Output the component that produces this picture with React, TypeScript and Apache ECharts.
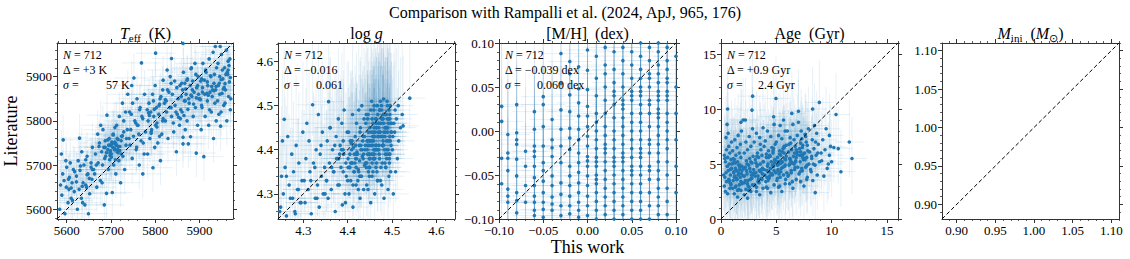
import React, { useEffect, useRef } from "react";
import * as echarts from "echarts";

// ---------------- data ----------------
const teffThis = [
  5596,5584,5603,5610,5589,5617,5599,5586,5612,5594,5606,5591,5615,5600,5608,5598,5588,5592,5613,5605,
  5649,5624,5641,5633,5652,5628,5645,5637,5657,5622,5648,5630,5655,5639,5626,5646,5634,5658,5629,5643,5651,5636,
  5685,5690,5668,5676,5663,5694,5681,5671,5697,5688,5665,5679,5693,5684,5699,5674,5687,5696,5670,5682,5677,5691,5661,5686,5698,5673,5667,5680,
  5703,5722,5711,5731,5706,5718,5727,5701,5714,5708,5704,5720,5712,5702,5709,5716,5724,5705,5737,5713,5729,5719,5733,5726,5738,5707,5715,5723,5710,5735,
  5772,5764,5748,5775,5757,5743,5768,5751,5778,5745,5761,5754,5770,5742,5766,5749,5759,5776,5747,5752,5769,5763,5741,5773,5756,5746,5765,5758,
  5795,5812,5783,5799,5806,5788,5815,5792,5801,5784,5818,5797,5808,5790,5803,5786,5811,5794,5817,5800,5818,5801,5782,5809,5796,5813,5787,5804,5791,5810,
  5848,5863,5829,5842,5855,5823,5837,5850,5826,5858,5833,5845,5821,5852,5839,5828,5856,5844,5834,5837,5847,5825,5859,5831,5853,5841,5827,5849,5836,5857,
  5893,5875,5863,5880,5868,5896,5872,5886,5861,5891,5877,5866,5899,5883,5870,5888,5862,5894,5879,5867,5885,5873,5897,5864,5882,5890,5863,5876,5898,5869,5887,5874,5892,5881,5865,
  5910,5932,5904,5921,5938,5913,5927,5906,5935,5918,5901,5929,5912,5924,5937,5907,5919,5933,5903,5926,5915,5939,5908,5922,5931,5936,5902,5917,5928,5911,5934,5905,5923,5914,5930,
  5948,5962,5944,5970,5955,5941,5966,5951,5959,5943,5968,5953,5946,5963,5957,5942,5969,5950,5961,5947,5971,5956,5945,5964,5952,5967,5958,5949,5965,5954,
  5695,5702,5708,5714,5699,5705,5717,5723,5690,5711,5698,5726,5693,5720,5729,5687,5734,5709,5701,5716,
  5860,5872,5884,5896,5905,5918,5925,5938,5949,5960,5868,5881,5893,5907,5920,5933,5946,5958,5970,5965,
  5610,5622,5635,5646,5658,5604,5618,5631,5643,5655,5760,5772,5785,5798,5810,5823,5836,5791,5804,5817,
];
const teffLit = [
  5590,5600,5615,5625,5632,5640,5650,5655,5660,5665,5672,5680,5690,5695,5705,5710,5725,5757,5620,5645,
  5590,5600,5610,5625,5635,5645,5650,5660,5668,5675,5680,5688,5695,5700,5710,5720,5730,5740,5761,5655,5670,5615,
  5610,5636,5650,5665,5680,5690,5700,5705,5712,5720,5725,5730,5735,5740,5745,5750,5755,5760,5770,5780,5790,5813,5690,5715,5728,5742,5700,5660,
  5638,5660,5680,5690,5700,5710,5720,5725,5730,5735,5740,5742,5745,5748,5752,5758,5765,5770,5780,5790,5800,5810,5820,5840,5860,5750,5735,5725,5712,5760,
  5680,5700,5715,5725,5735,5745,5755,5765,5775,5780,5790,5800,5810,5820,5830,5840,5850,5860,5880,5897,5931,5770,5760,5750,5795,5815,5825,5740,
  5694,5710,5725,5740,5750,5760,5770,5780,5790,5800,5805,5810,5815,5820,5830,5840,5850,5860,5870,5880,5892,5953,5825,5835,5845,5855,5812,5795,5775,5765,
  5730,5748,5760,5775,5790,5800,5810,5815,5820,5825,5830,5835,5840,5850,5860,5870,5880,5890,5900,5941,5820,5845,5855,5865,5808,5795,5915,5875,5885,5805,
  5727,5748,5763,5764,5780,5790,5800,5810,5820,5830,5840,5845,5850,5855,5860,5865,5870,5875,5880,5885,5890,5895,5900,5910,5920,5930,5975,5850,5860,5872,5838,5826,5905,5918,5812,
  5719,5760,5780,5790,5800,5810,5820,5830,5840,5845,5850,5855,5860,5865,5870,5875,5880,5885,5890,5900,5910,5920,5930,5940,5955,5968,5848,5862,5878,5892,5905,5835,5825,5915,5870,
  5788,5800,5815,5825,5835,5845,5855,5862,5870,5880,5888,5895,5900,5910,5920,5930,5940,5950,5960,5968,5850,5875,5885,5905,5915,5925,5840,5820,5935,5872,
  5745,5752,5738,5760,5732,5768,5742,5755,5728,5748,5722,5766,5757,5733,5775,5740,5745,5785,5718,5728,
  5885,5892,5870,5880,5895,5888,5902,5878,5893,5905,5845,5858,5852,5865,5858,5868,5860,5884,5898,5915,
  5648,5662,5652,5678,5690,5668,5685,5698,5712,5705,5790,5805,5818,5826,5838,5848,5830,5772,5786,5800,
];

const loggThis = [
  4.262,4.281,4.249,4.293,4.271,4.255,4.287,4.268,4.297,4.251,4.278,4.259,4.290,4.274,4.284,4.265,4.299,4.257,4.247,4.276,4.289,4.262,4.295,4.253,4.282,
  4.318,4.336,4.304,4.327,4.345,4.311,4.332,4.302,4.341,4.315,4.348,4.323,4.306,4.338,4.329,4.313,4.343,4.308,4.334,4.321,4.349,4.317,4.326,4.340,4.331,
  4.372,4.388,4.356,4.394,4.363,4.381,4.352,4.397,4.369,4.385,4.359,4.377,4.391,4.366,4.383,4.354,4.374,4.399,4.361,4.387,4.379,4.392,4.357,4.368,4.396,4.375,4.386,4.353,4.390,4.364,4.382,4.371,4.395,4.360,4.378,
  4.412,4.428,4.403,4.436,4.419,4.407,4.431,4.415,4.424,4.401,4.438,4.410,4.427,4.418,4.433,4.405,4.421,4.439,4.413,4.426,4.408,4.434,4.417,4.402,4.429,4.420,4.437,4.411,4.425,4.432,4.404,4.416,4.435,4.422,4.409,4.430,4.414,4.427,4.406,4.423,4.438,4.401,4.419,4.433,4.412,4.428,4.407,4.436,4.418,4.424,
  4.452,4.461,4.443,4.468,4.455,4.447,4.464,4.441,4.458,4.449,4.466,4.453,4.444,4.460,4.469,4.450,4.457,4.463,4.446,4.459,4.467,4.454,4.442,4.465,4.451,4.448,4.462,4.456,4.445,4.468,4.453,4.460,4.441,4.466,4.449,4.457,4.444,4.463,4.451,4.459,4.447,4.465,4.455,4.442,4.461,4.450,4.467,4.446,4.458,4.464,4.452,4.443,4.469,4.456,4.448,4.462,4.454,4.445,4.460,4.457,
  4.482,4.491,4.474,4.497,4.486,4.478,4.494,4.471,4.488,4.480,4.496,4.484,4.473,4.490,4.499,4.477,4.487,4.493,4.476,4.489,4.481,4.472,4.495,4.483,4.479,4.492,4.475,4.498,4.485,4.470,4.490,4.482,4.476,4.494,4.488,4.473,4.497,4.480,4.486,4.491,4.474,4.484,4.478,4.496,4.471,4.489,4.493,4.477,4.485,4.481,4.495,4.472,4.487,4.479,4.492,
  4.503,4.508,4.512,4.501,4.515,4.506,4.519,4.504,4.510,4.523,4.507,4.514,4.525,4.540,4.502,
  4.47,4.48,4.46,4.49,4.475,4.485,4.465,4.455,4.495,4.445,4.47,4.48,4.46,4.49,4.475,4.485,4.465,4.455,4.495,4.445,
  4.472,4.482,4.462,4.492,4.478,4.488,4.468,4.458,4.498,4.448,4.42,4.43,4.41,4.44,4.425,4.435,4.415,4.405,4.39,4.38,
  4.474,4.484,4.464,4.494,4.479,4.489,4.469,4.459,4.499,4.449,4.43,4.42,4.44,4.41,4.40,4.39,4.45,4.46,4.47,4.48,
];
const loggLit = [
  4.25,4.26,4.27,4.28,4.29,4.30,4.31,4.32,4.33,4.34,4.35,4.36,4.37,4.39,4.41,4.43,4.44,4.469,4.26,4.29,4.31,4.34,4.28,4.42,4.255,
  4.255,4.27,4.28,4.29,4.30,4.31,4.32,4.33,4.34,4.35,4.36,4.37,4.38,4.39,4.40,4.42,4.44,4.46,4.48,4.502,4.30,4.33,4.36,4.41,4.29,
  4.26,4.275,4.29,4.30,4.31,4.32,4.33,4.34,4.35,4.36,4.37,4.38,4.39,4.40,4.41,4.42,4.43,4.44,4.45,4.46,4.47,4.49,4.509,4.35,4.37,4.38,4.40,4.33,4.42,4.36,4.39,4.41,4.28,4.45,4.32,
  4.27,4.29,4.30,4.31,4.32,4.33,4.34,4.35,4.355,4.36,4.365,4.37,4.375,4.38,4.385,4.39,4.395,4.40,4.405,4.41,4.415,4.42,4.43,4.44,4.45,4.46,4.47,4.48,4.49,4.50,4.36,4.37,4.38,4.39,4.40,4.41,4.35,4.34,4.42,4.33,4.43,4.38,4.36,4.40,4.32,4.44,4.37,4.39,4.41,4.31,
  4.28,4.30,4.32,4.33,4.34,4.35,4.36,4.37,4.38,4.39,4.40,4.41,4.42,4.43,4.44,4.45,4.46,4.47,4.48,4.49,4.50,4.51,4.36,4.37,4.38,4.39,4.40,4.41,4.42,4.43,4.44,4.45,4.46,4.35,4.34,4.39,4.40,4.41,4.42,4.43,4.44,4.45,4.47,4.48,4.38,4.36,4.33,4.31,4.42,4.46,4.49,4.37,4.40,4.43,4.41,4.44,4.39,4.47,4.50,4.35,
  4.29,4.31,4.33,4.35,4.36,4.37,4.38,4.39,4.40,4.41,4.42,4.43,4.44,4.45,4.46,4.47,4.48,4.49,4.50,4.51,4.515,4.38,4.39,4.40,4.41,4.42,4.43,4.44,4.45,4.46,4.47,4.48,4.49,4.37,4.42,4.44,4.46,4.48,4.36,4.40,4.43,4.45,4.47,4.50,4.41,4.39,4.34,4.32,4.44,4.46,4.48,4.49,4.45,4.43,4.47,
  4.30,4.35,4.38,4.40,4.42,4.44,4.45,4.46,4.47,4.48,4.49,4.50,4.454,4.517,4.43,
  4.40,4.42,4.38,4.44,4.46,4.48,4.41,4.37,4.43,4.39,4.45,4.47,4.43,4.50,4.36,4.39,4.45,4.42,4.47,4.41,
  4.49,4.44,4.40,4.46,4.43,4.38,4.48,4.44,4.41,4.36,4.38,4.40,4.42,4.37,4.35,4.43,4.39,4.36,4.40,4.38,
  4.51,4.37,4.47,4.39,4.41,4.45,4.43,4.40,4.44,4.38,4.34,4.39,4.41,4.37,4.33,4.35,4.42,4.39,4.46,4.41,
];

const mhCols = [-0.097,-0.09,-0.08,-0.07,-0.06,-0.05,-0.04,-0.03,-0.02,-0.01,0,0.01,0.02,0.03,0.04,0.05,0.06,0.07,0.08,0.09,0.1];
const mhLit = [
  [0.028,0.011,-0.031,-0.06],
  [-0.004,-0.025,-0.045,-0.066,-0.074,-0.081,-0.031],
  [0.030,-0.002,-0.010,-0.015,-0.032,-0.051,-0.070,-0.079,-0.093],
  [-0.023,-0.040,-0.062,-0.081],
  [0.022,-0.017,-0.023,-0.029,-0.040,-0.053,-0.062,-0.074,-0.081,-0.090,-0.096,0.002],
  [0.039,0.030,0.005,-0.017,-0.036,-0.045,-0.057,-0.070,-0.081,-0.089,-0.098],
  [0.013,-0.010,-0.019,-0.029,-0.051,-0.062,-0.075,-0.083,-0.090],
  [0.088,0.054,0.024,0.002,-0.017,-0.036,-0.059,-0.072,-0.085,-0.096],
  [0.079,0.065,0.041,0.022,0.003,-0.008,-0.021,-0.040,-0.051,-0.062,-0.074,-0.085,-0.094],
  [0.073,0.048,0.032,0.017,0.002,-0.010,-0.025,-0.036,-0.047,-0.059,-0.070,-0.081,-0.090,-0.098],
  [0.092,0.069,0.047,0.028,0.017,0.005,-0.006,-0.017,-0.029,-0.040,-0.051,-0.062,-0.074,-0.085,-0.096,-0.034],
  [0.085,0.06,0.04,0.02,0.01,0.0,-0.01,-0.02,-0.03,-0.04,-0.05,-0.06,-0.07,-0.08,-0.09,-0.1,-0.035,-0.055],
  [0.095,0.075,0.05,0.035,0.02,0.005,-0.005,-0.015,-0.025,-0.035,-0.045,-0.055,-0.065,-0.075,-0.085,-0.095,0.065,-0.02],
  [0.09,0.07,0.055,0.04,0.03,0.015,0.0,-0.01,-0.02,-0.03,-0.04,-0.05,-0.06,-0.07,-0.08,-0.09,-0.1,0.045,-0.035],
  [0.095,0.08,0.065,0.05,0.035,0.025,0.015,0.005,-0.005,-0.015,-0.025,-0.035,-0.045,-0.055,-0.065,-0.075,-0.085,-0.095,0.03,-0.03],
  [0.09,0.075,0.06,0.045,0.035,0.02,0.01,0.0,-0.01,-0.02,-0.03,-0.04,-0.05,-0.06,-0.07,-0.08,-0.09,-0.1,0.04,-0.045],
  [0.1,0.085,0.07,0.06,0.05,0.04,0.03,0.02,0.01,0.0,-0.01,-0.02,-0.03,-0.04,-0.05,-0.06,-0.07,-0.08,-0.09,-0.1,0.045,-0.025],
  [0.095,0.08,0.065,0.05,0.035,0.02,0.005,-0.01,-0.025,-0.04,-0.055,-0.07,-0.085,-0.1,0.03,-0.015,0.06,-0.045],
  [0.1,0.09,0.075,0.065,0.055,0.045,0.035,0.025,0.015,0.005,-0.005,-0.015,-0.025,-0.035,-0.045,-0.055,-0.065,-0.075,-0.085,-0.095,0.04,0.02],
  [0.095,0.08,0.07,0.055,0.045,0.035,0.02,0.01,0.0,-0.01,-0.02,-0.035,-0.05,-0.065,-0.08,-0.095,0.04,0.06],
  [0.085,0.05,0.02,-0.01,-0.04,-0.07],
];

const ageThis = [
  0.6,0.4,0.8,0.3,0.9,0.5,0.7,0.35,0.85,0.45,0.65,0.95,0.55,0.75,0.4,0.9,0.6,0.3,0.8,0.5,0.7,0.95,0.45,0.65,0.55,0.6,0.85,0.75,0.35,0.24,
  1.5,1.2,1.8,1.05,1.35,1.65,1.95,1.1,1.45,1.75,1.25,1.55,1.85,1.15,1.4,1.7,1.3,1.9,1.6,1.0,1.5,1.2,1.8,1.35,1.65,1.05,1.45,1.75,1.25,1.55,1.85,1.8,2.0,1.15,1.4,1.7,1.3,1.9,1.6,1.1,
  2.4,2.1,2.7,2.25,2.55,2.85,2.15,2.45,2.75,2.05,2.35,2.65,2.95,2.2,2.5,2.8,2.3,2.6,2.9,2.1,2.4,2.7,2.25,2.55,2.85,2.2,2.8,2.86,2.45,2.75,2.05,2.35,2.65,2.95,2.5,
  3.5,3.2,3.8,3.05,3.35,3.65,3.95,3.15,3.45,3.75,3.25,3.55,3.85,3.1,3.4,3.7,3.3,3.6,3.9,3.0,3.5,3.2,3.8,3.35,3.65,3.15,3.45,3.75,3.25,3.55,
  4.5,4.2,4.8,4.05,4.35,4.65,4.95,4.15,4.45,4.75,4.25,4.55,4.85,4.1,4.4,4.7,4.3,4.6,4.9,4.0,4.5,4.2,4.8,4.76,4.35,4.65,4.95,4.15,4.45,4.75,4.25,4.55,4.85,4.97,4.1,
  5.5,5.2,5.8,5.05,5.35,5.65,5.95,5.15,5.45,5.75,5.25,5.55,5.85,5.1,5.4,5.7,5.3,5.6,5.9,5.0,5.5,5.2,5.8,5.35,5.65,5.15,5.45,5.75,5.25,5.55,5.85,5.1,5.4,5.7,5.3,
  6.5,6.2,6.8,6.05,6.35,6.65,6.95,6.15,6.45,6.75,6.25,6.55,6.85,6.1,6.4,6.7,6.3,6.6,6.9,6.0,6.5,6.4,6.2,6.8,6.35,6.65,6.15,6.45,6.75,6.25,
  7.5,7.2,7.8,7.05,7.35,7.65,7.95,7.15,7.45,7.75,7.25,7.55,7.85,7.1,7.4,7.7,7.3,7.6,7.9,7.0,7.0,7.5,7.2,7.8,7.35,7.65,7.15,7.45,7.75,7.25,
  8.52,8.3,8.7,8.1,8.5,8.9,8.2,8.6,8.0,8.4,8.8,8.25,8.65,8.45,8.28,8.89,8.35,8.75,8.15,8.55,
  9.3,9.6,9.1,9.8,9.4,9.9,9.2,9.5,9.7,9.05,
  10.4,10.84,11.6,11.84,10.2,10.6,10.0,9.8,
  1.2,1.6,2.2,2.6,3.1,3.6,4.2,4.6,5.2,5.6,6.2,6.6,7.1,7.6,0.8,1.4,1.9,2.4,2.9,3.4,
  3.9,4.4,4.9,5.4,5.9,6.4,6.9,7.4,0.6,1.1,1.7,2.3,2.8,3.3,3.8,4.3,4.8,5.3,5.8,6.3,
  6.8,7.3,7.8,1.3,1.8,2.1,2.7,3.2,3.7,4.1,4.7,5.1,5.7,6.1,6.7,7.2,7.7,8.2,0.9,1.5,
];
const ageLit = [
  2.3,2.5,2.8,3.0,3.2,3.4,3.6,3.8,4.0,4.2,4.4,4.6,4.8,5.0,5.2,5.4,5.6,5.8,6.0,6.3,6.6,7.0,7.4,7.8,8.6,10.0,4.5,3.5,5.5,4.0,
  2.0,2.3,2.6,2.8,3.0,3.1,3.3,3.5,3.6,3.8,3.9,4.0,4.1,4.2,4.4,4.5,4.6,4.8,4.9,5.0,5.2,5.4,5.6,5.8,6.0,6.2,6.5,6.8,7.2,7.6,8.0,8.8,9.0,4.3,3.7,4.7,5.1,3.2,2.7,5.5,
  1.9,2.2,2.5,2.7,2.9,3.1,3.3,3.5,3.7,3.9,4.1,4.3,4.5,4.7,4.9,5.1,5.3,5.5,5.7,6.0,6.3,6.6,7.0,7.5,8.2,9.0,9.9,11.17,3.0,4.0,4.6,5.0,3.6,4.2,2.6,
  2.2,2.5,2.8,3.1,3.4,3.7,4.0,4.2,4.4,4.6,4.8,5.0,5.2,5.4,5.6,5.8,6.0,6.3,6.6,7.0,7.4,7.8,8.3,3.9,4.5,5.1,3.3,4.1,5.7,6.8,
  2.4,2.8,3.1,3.4,3.7,4.0,4.2,4.4,4.6,4.8,5.0,5.2,5.4,5.6,5.8,6.0,6.2,6.5,6.8,7.1,7.5,8.0,8.6,9.3,4.3,4.9,5.3,3.8,5.7,6.4,3.5,4.1,5.1,10.96,2.9,
  2.5,2.9,3.2,3.5,3.8,4.0,4.2,4.4,4.6,4.8,5.0,5.2,5.4,5.6,5.8,6.0,6.2,6.4,6.7,7.0,7.3,7.6,8.0,8.5,9.0,4.5,5.1,5.5,4.1,6.1,3.6,4.9,5.3,6.6,3.0,
  2.8,3.2,3.6,3.9,4.2,4.5,4.7,4.9,5.1,5.3,5.5,5.7,5.9,6.1,6.3,6.6,6.9,7.2,7.6,8.0,8.6,9.6,5.0,5.6,4.4,6.0,6.8,3.4,5.2,7.4,
  3.0,3.4,3.8,4.1,4.4,4.7,5.0,5.2,5.4,5.6,5.8,6.0,6.2,6.4,6.7,7.0,7.3,7.7,8.2,8.8,9.8,5.5,6.1,4.9,6.5,7.5,4.3,5.9,3.6,8.0,
  2.4,3.5,4.0,4.5,4.9,5.2,5.5,5.8,6.1,6.4,6.8,7.2,7.8,8.5,10.0,10.6,5.0,6.0,4.3,7.0,
  3.9,4.6,5.3,5.8,6.3,6.6,7.2,8.2,5.0,6.0,
  9.5,4.3,7.0,5.5,6.5,6.4,5.2,7.6,
  3.8,4.2,3.5,4.6,3.9,4.3,4.8,4.1,5.2,4.7,5.5,5.0,5.8,5.4,3.3,3.6,4.4,3.2,4.0,3.6,
  4.5,3.9,5.3,4.3,5.7,5.1,6.1,5.6,4.8,5.1,4.9,4.4,3.7,4.9,5.2,5.6,4.4,5.9,4.9,5.3,
  6.3,4.6,6.7,2.9,3.4,3.9,5.2,2.9,3.6,5.9,6.2,3.7,6.5,4.0,4.7,6.9,4.8,5.7,3.1,2.6,
];

// typical error bars [x-, x+, y-, y+]
const teffErr = [45, 45, 55, 55];
const loggErr = [0.035, 0.035, 0.07, 0.16];
const mhErr = [0.025, 0.025, 0.09, 0.09];
const ageErr = [1.3, 1.3, 3.2, 3.8];

// axis ranges and major tick labels
const teffRange = [5578, 5976];
const loggRange = [4.243, 4.642];
const mhRange = [-0.1, 0.1];
const ageRange = [0, 16];
const miniRange = [0.881, 1.110];
const teffTicks = [5600, 5700, 5800, 5900];
const loggTicks = [4.3, 4.4, 4.5, 4.6];
const mhTicks = [-0.1, -0.05, 0, 0.05, 0.1];
const ageTicks = [0, 5, 10, 15];
const miniTicks = [0.9, 0.95, 1.0, 1.05, 1.1];
const tickDecimals = [0, 1, 2, 0, 2];

const panelTitles = [
  "{i|T}{s|eff}  (K)",
  "log {i|g}",
  "[M/H]  (dex)",
  "Age  (Gyr)",
  "{i|M}{s|ini}  ({i|M}{s|\u2299})",
];
const statN = ["712", "712", "712", "712"];
const statDelta = ["+3 K", "\u22120.016", "\u22120.039 dex", "+0.9 Gyr"];
const statSigma = ["57 K", "0.061", "0.060 dex", "2.4 Gyr"];
const mainTitle = "Comparison with Rampalli et al. (2024, ApJ, 965, 176)";
const yLabel = "Literature";
const xLabel = "This work";

// ---------------- layout / style ----------------
const FONT = "'Liberation Serif', 'Times New Roman', serif";
const BLUE = "#1f77b4";
const AX = "#333";
const PANEL_LEFT = [57, 278, 499, 721, 942];
const PANEL_TOP = 43;
const PANEL_W = 177;
const PANEL_H = 176;
const SIGMA_VALUE_OFFSET = [49, 38, 38, 37];

function minorsOf(majors: number[], range: number[]) {
  const ms = (majors[1] - majors[0]) / 5;
  const out: number[] = [];
  const k0 = Math.ceil(range[0] / ms - 1e-6);
  const k1 = Math.floor(range[1] / ms + 1e-6);
  for (let k = k0; k <= k1; k++) out.push(+(k * ms).toFixed(6));
  return out;
}

function pairs(xs: number[], ys: number[]) {
  const n = Math.min(xs.length, ys.length);
  const out: number[][] = [];
  for (let i = 0; i < n; i++) out.push([xs[i], ys[i]]);
  return out;
}

function buildOption() {
  const mhPts: number[][] = [];
  mhCols.forEach((x, i) => (mhLit[i] || []).forEach((y) => mhPts.push([x, y])));

  const panels = [
    { pts: pairs(teffThis, teffLit), range: teffRange, ticks: teffTicks, err: teffErr },
    { pts: pairs(loggThis, loggLit), range: loggRange, ticks: loggTicks, err: loggErr },
    { pts: mhPts, range: mhRange, ticks: mhTicks, err: mhErr },
    { pts: pairs(ageThis, ageLit), range: ageRange, ticks: ageTicks, err: ageErr },
    { pts: [] as number[][], range: miniRange, ticks: miniTicks, err: null as any },
  ];

  const grids: any[] = [];
  const xAxes: any[] = [];
  const yAxes: any[] = [];
  const series: any[] = [];
  const graphics: any[] = [];

  panels.forEach((p, i) => {
    grids.push({
      left: PANEL_LEFT[i],
      top: PANEL_TOP,
      width: i === 0 ? PANEL_W - 1 : PANEL_W,
      height: PANEL_H,
      containLabel: false,
      outerBoundsMode: "none",
    });
    const minors = minorsOf(p.ticks, p.range);
    const dec = tickDecimals[i];
    const fmt = (v: number) => v.toFixed(dec).replace("-", "\u2212");
    const mk = (kind: "x" | "y") => {
      const base = {
        type: "value",
        gridIndex: i,
        min: p.range[0],
        max: p.range[1],
        splitLine: { show: false },
        splitArea: { show: false },
      };
      const pA = kind === "x" ? "bottom" : "left";
      const pB = kind === "x" ? "top" : "right";
      const line = { show: true, onZero: false, lineStyle: { color: AX, width: 1 } };
      const noLine = { show: false, onZero: false };
      return [
        {
          ...base,
          position: pA,
          axisLine: line,
          axisTick: { show: true, inside: false, length: 4, customValues: p.ticks, lineStyle: { color: AX, width: 1 } },
          axisLabel: {
            show: true,
            customValues: p.ticks,
            formatter: fmt,
            fontFamily: FONT,
            fontSize: 13,
            color: "#000",
            margin: 5,
          },
        },
        {
          ...base,
          position: pA,
          axisLine: noLine,
          axisTick: { show: true, inside: false, length: 2, customValues: minors, lineStyle: { color: AX, width: 0.8 } },
          axisLabel: { show: false },
        },
        {
          ...base,
          position: pB,
          axisLine: line,
          axisTick: { show: true, inside: false, length: 4, customValues: p.ticks, lineStyle: { color: AX, width: 1 } },
          axisLabel: { show: false },
        },
        {
          ...base,
          position: pB,
          axisLine: noLine,
          axisTick: { show: true, inside: false, length: 2, customValues: minors, lineStyle: { color: AX, width: 0.8 } },
          axisLabel: { show: false },
        },
      ];
    };
    xAxes.push(...mk("x"));
    yAxes.push(...mk("y"));
    const ai = 4 * i;

    if (p.err) {
      const e = p.err;
      const r = p.range;
      const cl = (v: number) => Math.max(r[0], Math.min(r[1], v));
      series.push({
        type: "custom",
        xAxisIndex: ai,
        yAxisIndex: ai,
        silent: true,
        z: 1,
        data: p.pts,
        encode: { x: 0, y: 1 },
        renderItem: (_params: any, api: any) => {
          const x = api.value(0);
          const y = api.value(1);
          const a = api.coord([cl(x - e[0]), y]);
          const b = api.coord([cl(x + e[1]), y]);
          const c = api.coord([x, cl(y - e[2])]);
          const d = api.coord([x, cl(y + e[3])]);
          const st = { stroke: BLUE, lineWidth: 1, opacity: 0.1 };
          return {
            type: "group",
            children: [
              { type: "line", shape: { x1: a[0], y1: a[1], x2: b[0], y2: b[1] }, style: st },
              { type: "line", shape: { x1: c[0], y1: c[1], x2: d[0], y2: d[1] }, style: st },
            ],
          };
        },
      });
      series.push({
        type: "scatter",
        xAxisIndex: ai,
        yAxisIndex: ai,
        silent: true,
        z: 2,
        data: p.pts,
        symbolSize: 3.6,
        clip: true,
        itemStyle: { color: BLUE, opacity: 1 },
      });
    }
    series.push({
      type: "line",
      xAxisIndex: ai,
      yAxisIndex: ai,
      silent: true,
      z: 5,
      symbol: "none",
      data: [
        [p.range[0], p.range[0]],
        [p.range[1], p.range[1]],
      ],
      lineStyle: { color: "#000", width: 1, type: [4, 2.5] },
    });

    // panel title
    const cx = PANEL_LEFT[i] + PANEL_W / 2;
    graphics.push({
      type: "text",
      x: cx,
      y: 33,
      style: {
        text: panelTitles[i],
        fontFamily: FONT,
        fontSize: 16,
        lineHeight: 20,
        fill: "#000",
        align: "center",
        verticalAlign: "middle",
        rich: {
          i: { fontFamily: FONT, fontSize: 16, fontStyle: "italic", lineHeight: 20, fill: "#000" },
          s: { fontFamily: FONT, fontSize: 11, lineHeight: 10, verticalAlign: "bottom", fill: "#000" },
        },
      },
    });

    if (i < 4) {
      const L = PANEL_LEFT[i] + 6;
      const ts = { fontFamily: FONT, fontSize: 12, fill: "#000", verticalAlign: "middle", align: "left" };
      const it = { fontFamily: FONT, fontSize: 12, fontStyle: "italic", fill: "#000" };
      graphics.push({
        type: "text",
        x: L,
        y: PANEL_TOP + 12,
        z: 10,
        style: { ...ts, text: "{i|N} = " + statN[i], rich: { i: it } },
      });
      graphics.push({ type: "text", x: L, y: PANEL_TOP + 27, z: 10, style: { ...ts, text: "\u0394 = " + statDelta[i] } });
      graphics.push({
        type: "text",
        x: L,
        y: PANEL_TOP + 42,
        z: 10,
        style: { ...ts, text: "{i|\u03c3} =", rich: { i: it } },
      });
      graphics.push({
        type: "text",
        x: PANEL_LEFT[i] + SIGMA_VALUE_OFFSET[i],
        y: PANEL_TOP + 42,
        z: 10,
        style: { ...ts, text: statSigma[i] },
      });
    }
  });

  graphics.push({
    type: "text",
    x: 565,
    y: 12,
    style: { text: mainTitle, fontFamily: FONT, fontSize: 16, fill: "#000", align: "center", verticalAlign: "middle" },
  });
  graphics.push({
    type: "text",
    x: 11,
    y: 131,
    rotation: Math.PI / 2,
    style: { text: yLabel, fontFamily: FONT, fontSize: 18, fill: "#000", align: "center", verticalAlign: "middle" },
  });
  graphics.push({
    type: "text",
    x: PANEL_LEFT[2] + PANEL_W / 2,
    y: 247,
    style: { text: xLabel, fontFamily: FONT, fontSize: 18, fill: "#000", align: "center", verticalAlign: "middle" },
  });

  return {
    animation: false,
    backgroundColor: "#fff",
    grid: grids,
    xAxis: xAxes,
    yAxis: yAxes,
    series,
    graphic: { elements: graphics },
  };
}

export default function App() {
  const ref = useRef<HTMLDivElement>(null);
  useEffect(() => {
    document.body.style.margin = "0";
    if (!ref.current) return;
    const chart = echarts.init(ref.current, undefined, { renderer: "svg" });
    chart.setOption(buildOption() as any);
    return () => chart.dispose();
  }, []);
  return (
    <div
      ref={ref}
      style={{ position: "absolute", left: 0, top: 0, width: 1130, height: 259, background: "#fff" }}
    />
  );
}
